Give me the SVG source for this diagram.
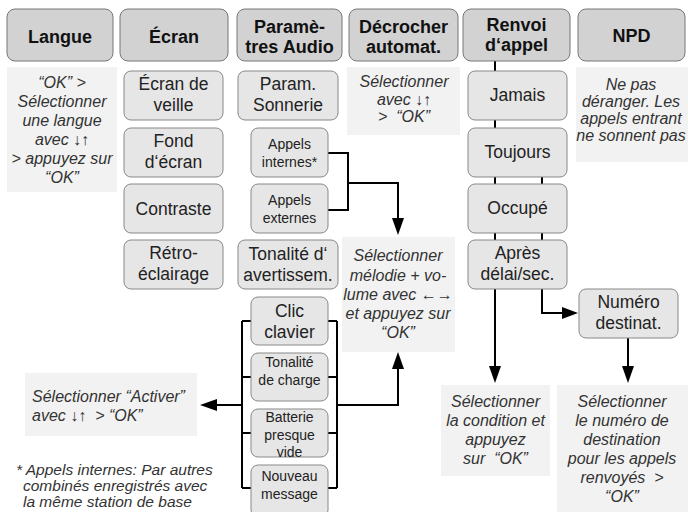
<svg xmlns="http://www.w3.org/2000/svg" width="688" height="512" viewBox="0 0 688 512">
<style>
.hd{fill:#d2d2d2;stroke:#777;stroke-width:1}
.bx{fill:#e6e6e6;stroke:#888;stroke-width:1}
.bg{fill:#f2f2f2;stroke:none}
.ht{font-family:"Liberation Sans",Arial,sans-serif;font-weight:bold;font-size:18px;fill:#111;text-anchor:middle}
.t{font-family:"Liberation Sans",Arial,sans-serif;font-size:17.5px;fill:#222;text-anchor:middle}
.s{font-family:"Liberation Sans",Arial,sans-serif;font-size:14px;fill:#222;text-anchor:middle}
.i{font-family:"Liberation Sans",Arial,sans-serif;font-style:italic;font-size:16px;fill:#333;text-anchor:middle;white-space:pre}
.il{text-anchor:start}
.fn{font-size:15.5px}
.ln{fill:none;stroke:#000;stroke-width:2}
.ah{fill:#000}
</style>
<rect width="688" height="512" fill="#fff"/>

<g id="connectors">
<path class="ln" d="M328 153 H348 V210 H328 M348 183 H398 V220"/>
<polygon class="ah" points="392,218 404,218 398,235"/>
<path class="ln" d="M242 321 V488 M242 321 H251 M242 377 H251 M242 433 H251 M242 488 H251 M328 321 H337 M328 377 H337 M328 433 H337 M328 488 H337 M337 321 V488 M242 405 H214 M337 405 H398 V368"/>
<polygon class="ah" points="200,405 217,399 217,411"/>
<polygon class="ah" points="392,369 404,369 398,352"/>
<path class="ln" d="M495 61 V368 M542 177 V313 H564 M628 338 V368"/>
<polygon class="ah" points="489,366 501,366 495,383"/>
<polygon class="ah" points="562,307 562,319 578,313"/>
<polygon class="ah" points="622,366 634,366 628,383"/>
</g>

<g id="langue"><rect class="hd" x="7" y="9" width="106" height="52" rx="8"/><text class="ht" x="60" y="43">Langue</text></g>
<g id="langue-note"><rect class="bg" x="7" y="67" width="110" height="125"/>
<text class="i" x="62" y="88">“OK” &gt;</text>
<text class="i" x="62" y="107">Sélectionner</text>
<text class="i" x="62" y="126">une langue</text>
<text class="i" x="62" y="145">avec ↓↑</text>
<text class="i" x="62" y="164">&gt; appuyez sur</text>
<text class="i" x="62" y="183">“OK”</text></g>

<g id="ecran"><rect class="hd" x="120" y="9" width="108" height="52" rx="8"/><text class="ht" x="174" y="43">Écran</text></g>
<g id="ecran-veille"><rect class="bx" x="124" y="71" width="99" height="49" rx="7"/><text class="t" x="173.5" y="90">Écran de</text><text class="t" x="173.5" y="111">veille</text></g>
<g id="fond-ecran"><rect class="bx" x="124" y="128" width="99" height="49" rx="7"/><text class="t" x="173.5" y="147">Fond</text><text class="t" x="173.5" y="168">d‘écran</text></g>
<g id="contraste"><rect class="bx" x="124" y="184" width="99" height="49" rx="7"/><text class="t" x="173.5" y="215">Contraste</text></g>
<g id="retro"><rect class="bx" x="124" y="240" width="99" height="49" rx="7"/><text class="t" x="173.5" y="259">Rétro-</text><text class="t" x="173.5" y="280">éclairage</text></g>

<g id="audio"><rect class="hd" x="237" y="9" width="105" height="52" rx="8"/><text class="ht" x="289.5" y="33">Paramè-</text><text class="ht" x="289.5" y="53">tres Audio</text></g>
<g id="sonnerie"><rect class="bx" x="238" y="71" width="100" height="49" rx="7"/><text class="t" x="288" y="90">Param.</text><text class="t" x="288" y="111">Sonnerie</text></g>
<g id="appels-internes"><rect class="bx" x="251" y="128" width="77" height="49" rx="7"/><text class="s" x="289.5" y="149">Appels</text><text class="s" x="289.5" y="167">internes*</text></g>
<g id="appels-externes"><rect class="bx" x="251" y="184" width="77" height="49" rx="7"/><text class="s" x="289.5" y="205">Appels</text><text class="s" x="289.5" y="223">externes</text></g>
<g id="avertissem"><rect class="bx" x="238" y="240" width="100" height="49" rx="7"/><text class="t" x="288" y="260">Tonalité d‘</text><text class="t" x="288" y="281">avertissem.</text></g>
<g id="clic"><rect class="bx" x="251" y="297" width="77" height="48" rx="7"/><text class="t" x="289.5" y="317">Clic</text><text class="t" x="289.5" y="338">clavier</text></g>
<g id="charge"><rect class="bx" x="251" y="353" width="77" height="48" rx="7"/><text class="s" x="289.5" y="367">Tonalité</text><text class="s" x="289.5" y="385">de charge</text></g>
<g id="batterie"><rect class="bx" x="251" y="409" width="77" height="48" rx="7"/><text class="s" x="289.5" y="422">Batterie</text><text class="s" x="289.5" y="440">presque</text><text class="s" x="289.5" y="457">vide</text></g>
<g id="nouveau"><rect class="bx" x="251" y="465" width="77" height="52" rx="7"/><text class="s" x="289.5" y="481">Nouveau</text><text class="s" x="289.5" y="499">message</text></g>
<g id="audio-note"><rect class="bg" x="342" y="237" width="113" height="115"/>
<text class="i" x="398" y="261">Sélectionner</text>
<text class="i" x="398" y="281">mélodie + vo-</text>
<text class="i" x="398" y="300">lume avec ←→</text>
<text class="i" x="398" y="319">et appuyez sur</text>
<text class="i" x="398" y="338">“OK”</text></g>
<g id="activer-note"><rect class="bg" x="25" y="373" width="172" height="63"/>
<text class="i il" x="32" y="402">Sélectionner “Activer”</text>
<text class="i il" x="32" y="421">avec ↓↑  &gt; “OK”</text></g>
<g id="footnote">
<text class="i il fn" x="16" y="475">* Appels internes: Par autres</text>
<text class="i il fn" x="23" y="491">combinés enregistrés avec</text>
<text class="i il fn" x="23" y="507">la même station de base</text></g>

<g id="decrocher"><rect class="hd" x="349" y="9" width="109" height="52" rx="8"/><text class="ht" x="403.5" y="33">Décrocher</text><text class="ht" x="403.5" y="53">automat.</text></g>
<g id="decrocher-note"><rect class="bg" x="347" y="67" width="113" height="68"/>
<text class="i" x="404" y="87">Sélectionner</text>
<text class="i" x="404" y="105">avec ↓↑</text>
<text class="i" x="404" y="122">&gt;  “OK”</text></g>

<g id="renvoi"><rect class="hd" x="463" y="9" width="107" height="52" rx="8"/><text class="ht" x="516.5" y="31">Renvoi</text><text class="ht" x="516.5" y="51">d‘appel</text></g>
<g id="jamais"><rect class="bx" x="468" y="71" width="99" height="49" rx="7"/><text class="t" x="517.5" y="101">Jamais</text></g>
<g id="toujours"><rect class="bx" x="468" y="128" width="99" height="49" rx="7"/><text class="t" x="517.5" y="158">Toujours</text></g>
<g id="occupe"><rect class="bx" x="468" y="184" width="99" height="49" rx="7"/><text class="t" x="517.5" y="214">Occupé</text></g>
<g id="apres"><rect class="bx" x="468" y="240" width="99" height="49" rx="7"/><text class="t" x="517.5" y="259">Après</text><text class="t" x="517.5" y="280">délai/sec.</text></g>
<g id="numero"><rect class="bx" x="579" y="289" width="99" height="49" rx="7"/><text class="t" x="628.5" y="308">Numéro</text><text class="t" x="628.5" y="329">destinat.</text></g>
<g id="condition-note"><rect class="bg" x="441" y="385" width="109" height="91"/>
<text class="i" x="495.5" y="407">Sélectionner</text>
<text class="i" x="495.5" y="426">la condition et</text>
<text class="i" x="495.5" y="445">appuyez</text>
<text class="i" x="495.5" y="464">sur  “OK”</text></g>
<g id="destination-note"><rect class="bg" x="557" y="385" width="131" height="127"/>
<text class="i" x="622" y="407">Sélectionner</text>
<text class="i" x="622" y="426">le numéro de</text>
<text class="i" x="622" y="445">destination</text>
<text class="i" x="622" y="464">pour les appels</text>
<text class="i" x="622" y="483">renvoyés  &gt;</text>
<text class="i" x="622" y="502">“OK”</text></g>

<g id="npd"><rect class="hd" x="578" y="9" width="107" height="52" rx="8"/><text class="ht" x="631.5" y="42">NPD</text></g>
<g id="npd-note"><rect class="bg" x="576" y="67" width="112" height="95"/>
<text class="i" x="631" y="90">Ne pas</text>
<text class="i" x="631" y="107">déranger. Les</text>
<text class="i" x="631" y="124">appels entrant</text>
<text class="i" x="631" y="141">ne sonnent pas</text></g>
</svg>
